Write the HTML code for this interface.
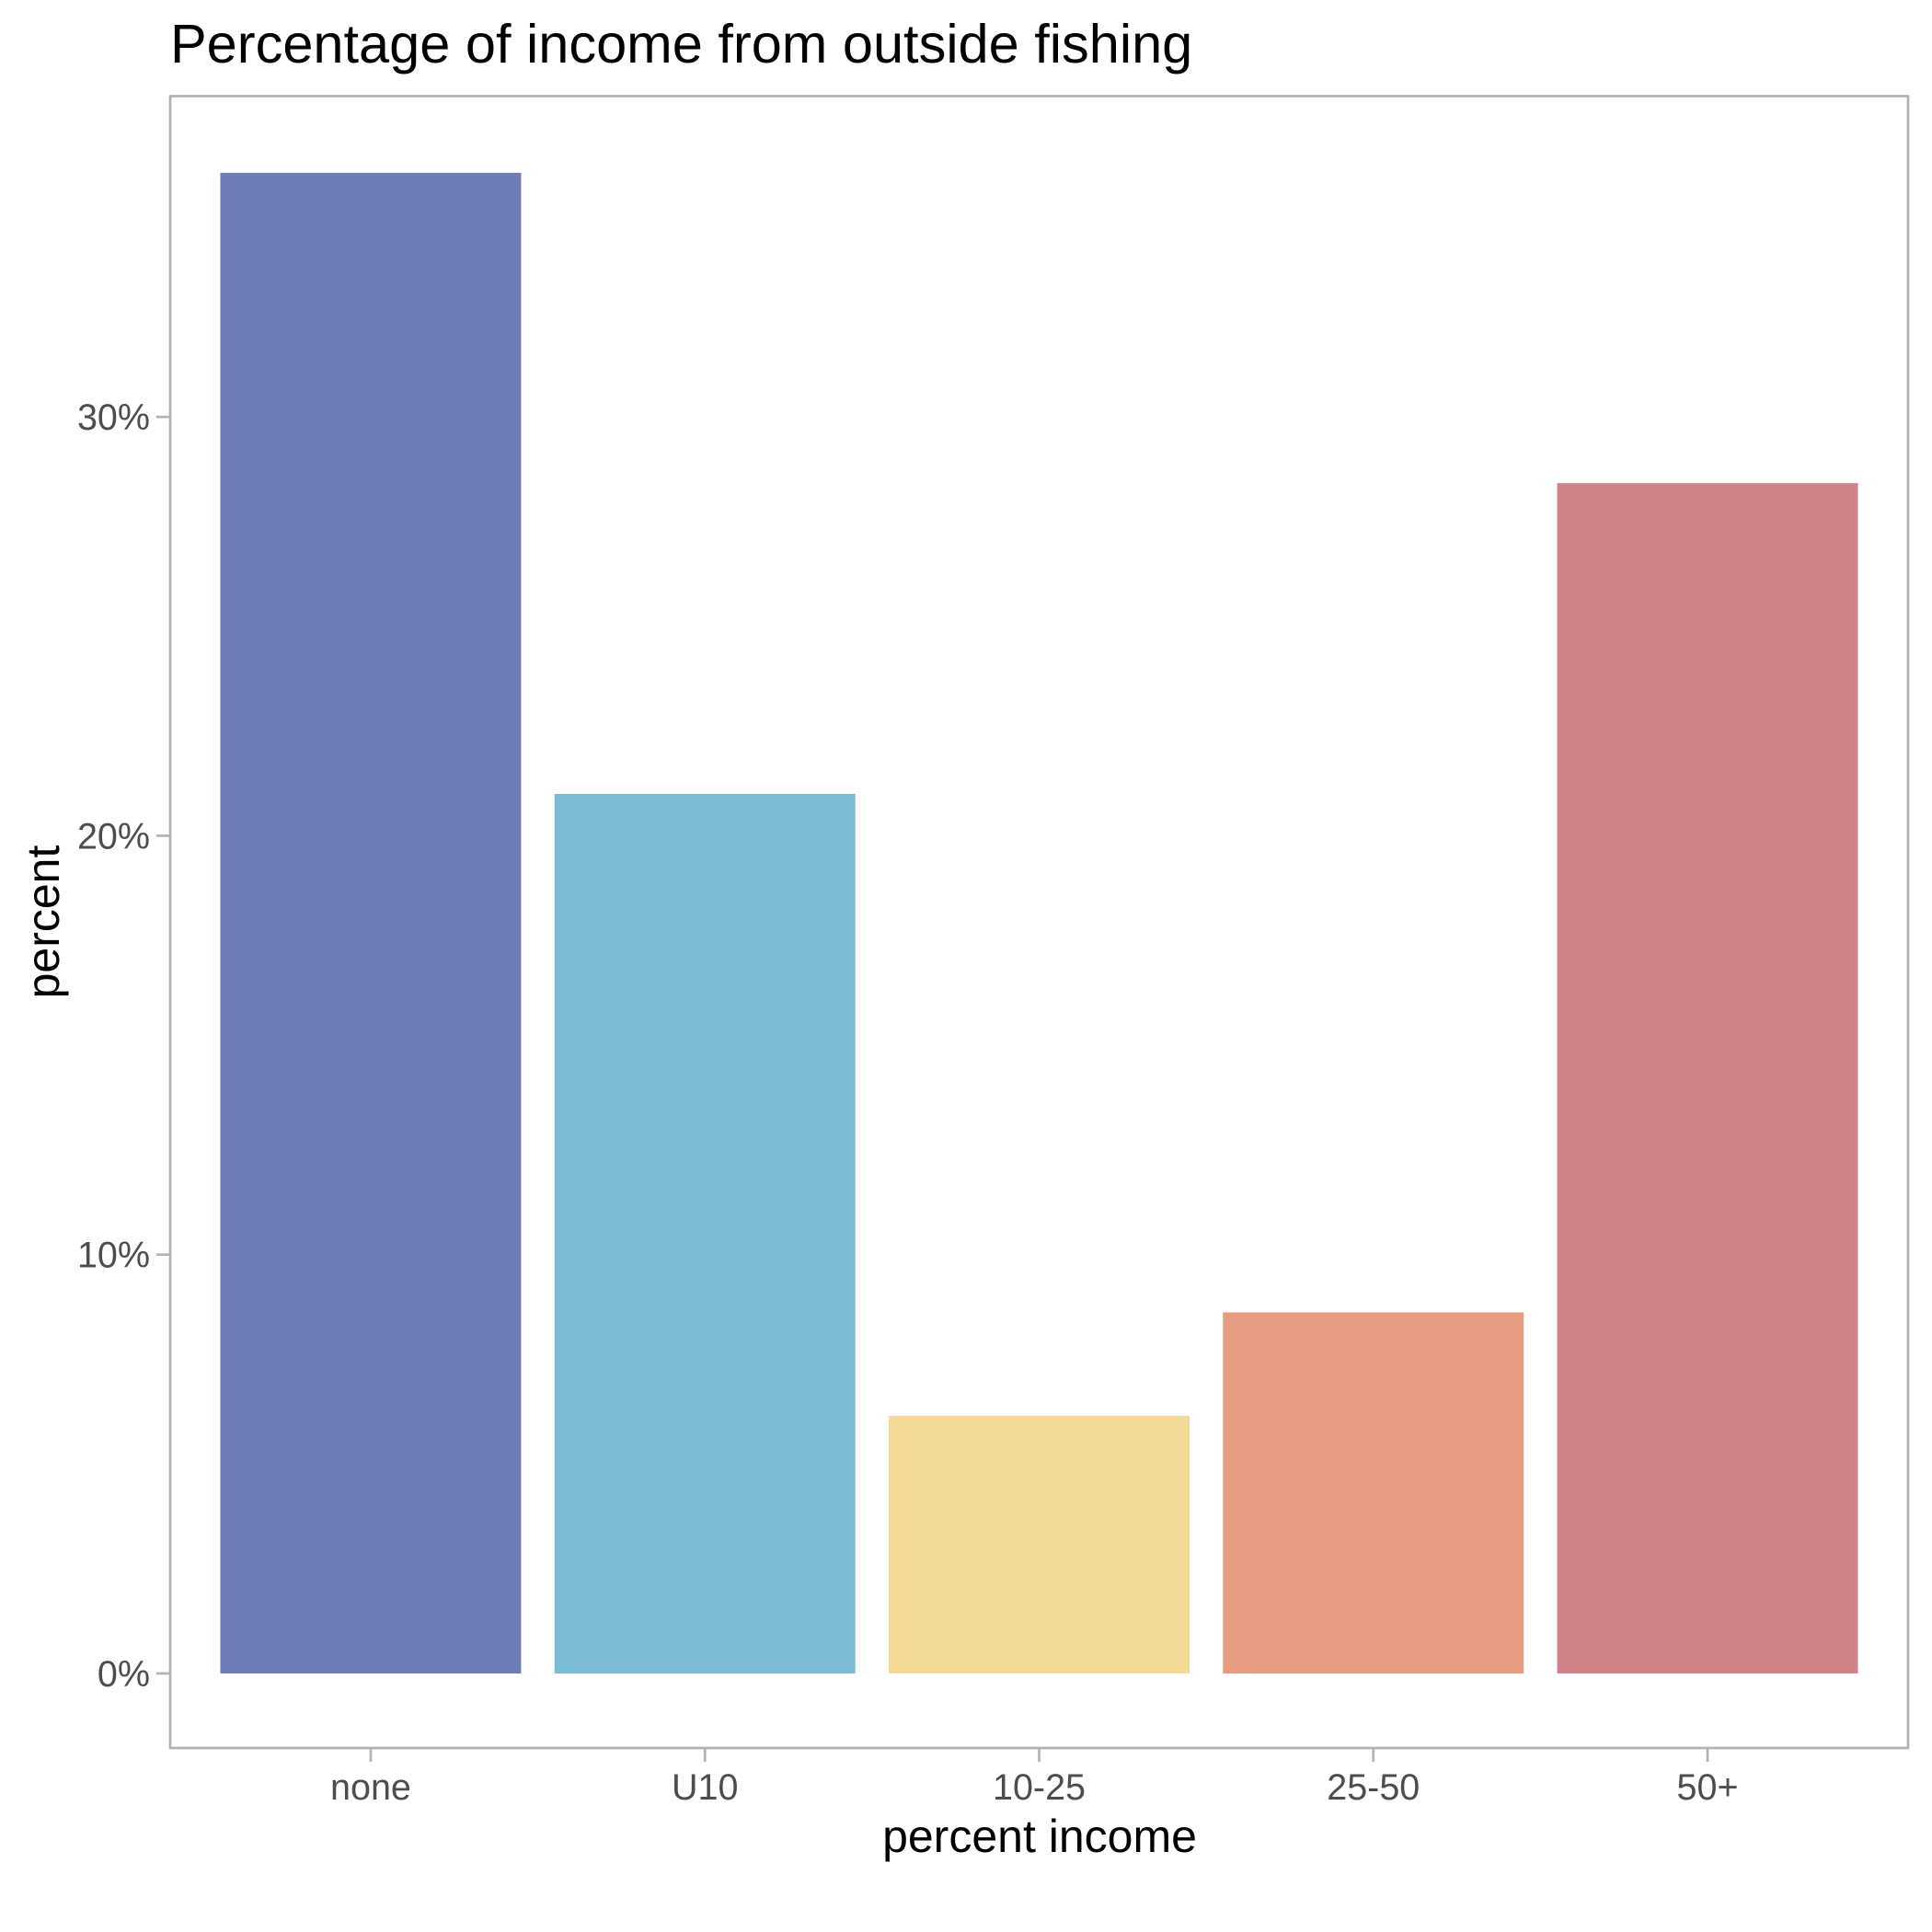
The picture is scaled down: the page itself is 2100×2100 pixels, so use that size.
<!DOCTYPE html>
<html><head><meta charset="utf-8">
<style>
html,body{margin:0;padding:0;background:#fff;}
svg{display:block;font-family:"Liberation Sans",Arial,sans-serif;}
</style></head>
<body>
<svg id="chart" width="2100" height="2100" viewBox="0 0 2100 2100" xmlns="http://www.w3.org/2000/svg">
<rect width="2100" height="2100" fill="#fff"/>
<text x="185" y="68" font-size="59.5" fill="#000">Percentage of income from outside fishing</text>
<g id="plot"></g>
<text x="1130" y="2013" font-size="50" fill="#000" text-anchor="middle">percent income</text>
<text transform="translate(64,1002) rotate(-90)" font-size="50" fill="#000" text-anchor="middle">percent</text>
</svg>
<script>
const categories = ["none","U10","10-25","25-50","50+"];
const values = [35.83, 21.0, 6.15, 8.62, 28.42];
const colors = ["#6e7cb8","#7cbbd4","#f3da99","#e79b81","#d1838a"];
const yTicks = [0, 10, 20, 30];
const yTickLabels = ["0%","10%","20%","30%"];

const L = 185, R = 2074, T = 104.5, B = 1900;
const yMin = -1.78, yMax = 37.66;
function yScale(v){ return B - (v - yMin) / (yMax - yMin) * (B - T); }
const unit = (R - L) / (categories.length + 0.2);
function xScale(i){ return L + (i + 0.6) * unit; }
const NS = "http://www.w3.org/2000/svg";
const g = document.getElementById('plot');
function mk(tag, attrs){ const e = document.createElementNS(NS, tag); for (const k in attrs) e.setAttribute(k, attrs[k]); return e; }

values.forEach((v, i) => {
  const y = yScale(v), y0 = yScale(0), w = unit * 0.9;
  const r = mk('rect', {x: xScale(i) - w/2, y: y, width: w, height: y0 - y, fill: colors[i]});
  
  
  g.appendChild(r);
});

const border = mk('rect', {x: L, y: T, width: R - L, height: B - T, fill: 'none', stroke: '#b3b3b3', 'stroke-width': 2.7});


g.appendChild(border);

yTicks.forEach((t, i) => {
  const y = yScale(t);
  const ln = mk('line', {x1: L - 15, x2: L, y1: y, y2: y, stroke: '#b3b3b3', 'stroke-width': 2.7});
  
  
  g.appendChild(ln);
  const tx = mk('text', {x: L - 22, y: y + 14, 'font-size': 39.5, fill: '#4d4d4d', 'text-anchor': 'end'});
  tx.textContent = yTickLabels[i];
  
  
  g.appendChild(tx);
});

categories.forEach((c, i) => {
  const x = xScale(i);
  const ln = mk('line', {x1: x, x2: x, y1: B, y2: B + 15, stroke: '#b3b3b3', 'stroke-width': 2.7});
  
  
  g.appendChild(ln);
  const tx = mk('text', {x: x, y: B + 56, 'font-size': 39.5, fill: '#4d4d4d', 'text-anchor': 'middle'});
  tx.textContent = c;
  
  
  g.appendChild(tx);
});
</script>
</body></html>
